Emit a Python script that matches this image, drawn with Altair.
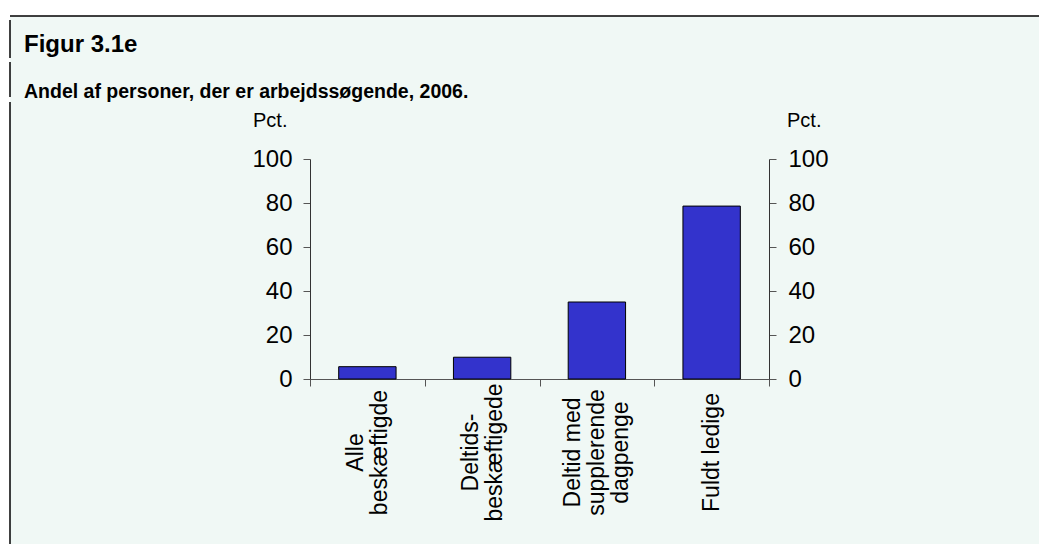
import altair as alt
import pandas as pd

categories = ["Alle|beskæftigde", "Deltids-|beskæftigede", "Deltid med|supplerende|dagpenge", "Fuldt ledige"]
values = [5.6, 9.9, 35.0, 78.6]
y_ticks = [0, 20, 40, 60, 80, 100]
title_text = "Figur 3.1e"
subtitle_text = "Andel af personer, der er arbejdssøgende, 2006."
unit_text = "Pct."

df = pd.DataFrame({"cat": categories, "val": values})

BG = "#f0f8f5"
FONT = "Liberation Sans"
LH = 24

label_offset = {
    "condition": [
        {"test": "length(split(datum.label, '|')) == 3", "value": -LH},
        {"test": "length(split(datum.label, '|')) == 2", "value": -LH / 2},
    ],
    "value": 0,
}

x_enc = alt.X("cat:N", sort=categories, title=None,
              scale=alt.Scale(paddingInner=0, paddingOuter=0),
              axis=alt.Axis(labelAngle=-90, labelAlign="center", labelBaseline="middle",
                            labelExpr="split(datum.label, '|')", labelLineHeight=LH,
                            labelFontSize=23, labelFont=FONT, labelColor="#000",
                            labelPadding=66, tickBand="extent", tickSize=7,
                            labelOffset=label_offset,
                            tickColor="#555", domainColor="#555", labelLimit=300))

bars = alt.Chart(df).mark_bar(color="#3333cc", stroke="#000", strokeWidth=1,
                              width=alt.RelativeBandSize(0.5)).encode(
    x=x_enc,
    y=alt.Y("val:Q", title=None, scale=alt.Scale(domain=[0, 100]),
            axis=alt.Axis(orient="left", values=y_ticks, grid=False, labelFontSize=24,
                          labelFont=FONT, labelColor="#000", labelPadding=11, tickSize=7,
                          tickColor="#555", domainColor="#333")),
)

bars_r = alt.Chart(df).mark_bar(opacity=0, width=alt.RelativeBandSize(0.5)).encode(
    x=alt.X("cat:N", sort=categories),
    y=alt.Y("val:Q", title=None, scale=alt.Scale(domain=[0, 100]),
            axis=alt.Axis(orient="right", values=y_ticks, grid=False, labelFontSize=24,
                          labelFont=FONT, labelColor="#000", labelPadding=12, tickSize=7,
                          tickColor="#555", domainColor="#333")),
)

one = pd.DataFrame({"t": [0]})

def txt(s, x, y, size, bold=False):
    return alt.Chart(pd.DataFrame({"t": [s]})).mark_text(
        align="left", baseline="alphabetic", font=FONT, fontSize=size,
        fontWeight="bold" if bold else "normal", color="#000"
    ).encode(x=alt.value(x), y=alt.value(y), text="t:N")

def rect(x, x2, y, y2, color):
    return alt.Chart(one).mark_rect(color=color).encode(
        x=alt.value(x), x2=alt.value(x2), y=alt.value(y), y2=alt.value(y2))

def rule(x, x2, y, y2, w=1.5):
    return alt.Chart(one).mark_rule(color="#000", strokeWidth=w).encode(
        x=alt.value(x), x2=alt.value(x2), y=alt.value(y), y2=alt.value(y2))

deco = alt.layer(
    rect(-302, 729, -151, -143, "#ffffff"),
    rect(-302, -300, -151, 385, "#ffffff"),
    rule(-300, 729, -143, -143),
    rule(-300, -300, -139, -101),
    rule(-300, -300, -97, -62),
    rule(-300, -300, -57, 385),
    txt(title_text, -286, -107, 24, True),
    txt(subtitle_text, -286, -61, 19.5, True),
    txt(unit_text, -57, -32, 20),
    txt(unit_text, 477, -32, 20),
)

chart = alt.layer(deco, bars, bars_r).resolve_scale(y="shared").resolve_axis(y="independent").properties(
    width=459, height=220,
    autosize=alt.AutoSizeParams(type="none"),
    padding={"left": 302, "top": 151, "right": 270, "bottom": 165},
    background=BG,
).configure_view(stroke=None)

chart.save("out.html", embed_options={"renderer": "svg", "actions": False})
